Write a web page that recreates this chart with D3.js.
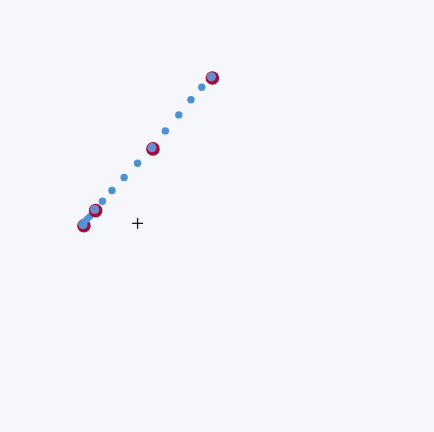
<!DOCTYPE html>
<html>
<head>
<meta charset="utf-8">
<script src="https://cdn.jsdelivr.net/npm/d3@7"></script>
<style>
  html, body { margin: 0; padding: 0; background: #f5f7fb; }
  svg { display: block; }
</style>
</head>
<body>
<svg id="chart" width="434" height="432"></svg>
<script>
// Data (in a 0-100 unit space)
const pointX = [48.8, 35.1, 21.9, 19.2];
const pointY = [82.1, 65.7, 51.4, 47.9];
const trailX = [46.5, 44.0, 41.2, 38.1, 31.7, 28.6, 25.8, 23.6];
const trailY = [79.8, 76.9, 73.4, 69.7, 62.2, 58.9, 55.9, 53.4];
const markerX = [31.7];
const markerY = [48.3];

const W = 434, H = 432;
const x = d3.scaleLinear().domain([0, 100]).range([0, W]);
const y = d3.scaleLinear().domain([0, 100]).range([H, 0]);

const svg = d3.select("#chart");
svg.append("rect").attr("width", W).attr("height", H).attr("fill", "#f5f7fb");

const points = pointX.map((v, i) => ({ x: v, y: pointY[i] }));
const trail = trailX.map((v, i) => ({ x: v, y: trailY[i] }));

const drawPoint = (g, d) => {
  g.append("circle").attr("cx", x(d.x) + 0.6).attr("cy", y(d.y) + 0.7).attr("r", 6.8)
    .attr("fill", "#a10d39");
  g.append("circle").attr("cx", x(d.x) - 0.4).attr("cy", y(d.y) - 0.5).attr("r", 4.6)
    .attr("fill", "#6e8bcd");
};

const gPts = svg.append("g");
drawPoint(gPts, points[3]);

// solid thick segment between the two lowest points
const line = d3.line().x(d => x(d.x)).y(d => y(d.y));
const seg = [
  { x: points[3].x - 0.3, y: points[3].y + 0.3 },
  { x: points[3].x + (points[2].x - points[3].x) * 0.6, y: points[3].y + (points[2].y - points[3].y) * 0.6 }
];
svg.append("path")
  .datum(seg)
  .attr("d", line)
  .attr("fill", "none")
  .attr("stroke", "#4a95dc")
  .attr("stroke-width", 6.5)
  .attr("stroke-linecap", "round");

// dotted trail
svg.append("g").selectAll("circle").data(trail).join("circle")
  .attr("cx", d => x(d.x)).attr("cy", d => y(d.y)).attr("r", 3.7)
  .attr("fill", "#4d91d1");

const gTop = svg.append("g");
[points[2], points[1], points[0]].forEach(d => drawPoint(gTop, d));

// cross marker
const gm = svg.append("g").attr("stroke", "#1a1a1a").attr("stroke-width", 1.3);
markerX.forEach((mx, i) => {
  const cx = x(mx), cy = y(markerY[i]);
  gm.append("line").attr("x1", cx - 5.5).attr("x2", cx + 5.5).attr("y1", cy).attr("y2", cy);
  gm.append("line").attr("x1", cx).attr("x2", cx).attr("y1", cy - 5.5).attr("y2", cy + 5.5);
});
</script>
</body>
</html>
